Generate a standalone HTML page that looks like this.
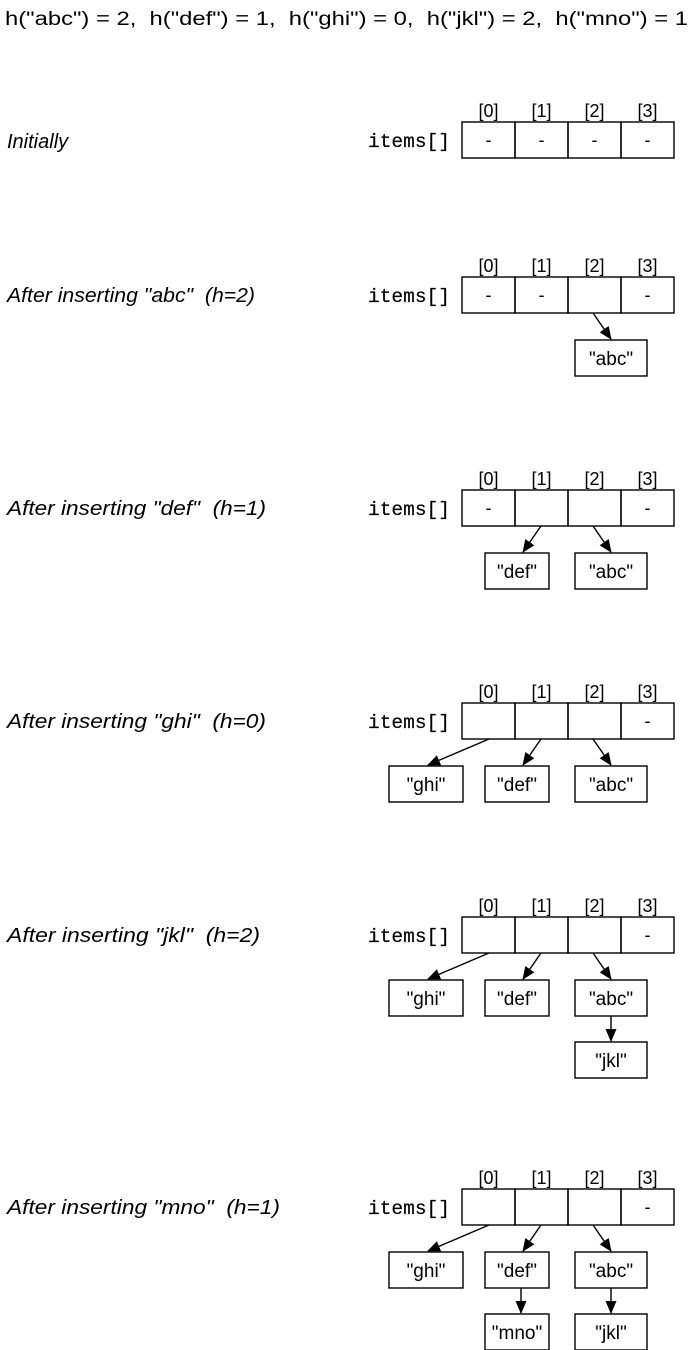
<!DOCTYPE html>
<html><head><meta charset="utf-8"><style>
html,body{margin:0;padding:0;background:#fff;}
svg{display:block;}
text{white-space:pre;}
.t{font-family:"Liberation Sans",sans-serif;fill:#000;}
.m{font-family:"Liberation Mono",monospace;fill:#000;}
</style></head><body>
<svg width="693" height="1350" viewBox="0 0 693 1350" xmlns="http://www.w3.org/2000/svg" xml:space="preserve">
<defs><marker id="a" markerWidth="14" markerHeight="12" refX="12" refY="5.5" orient="auto" markerUnits="userSpaceOnUse"><path d="M0,0 L13,5.5 L0,11 z" fill="#000"/></marker></defs>
<text class="t" x="5" y="25" font-size="19" textLength="683" lengthAdjust="spacingAndGlyphs">h("abc") = 2,  h("def") = 1,  h("ghi") = 0,  h("jkl") = 2,  h("mno") = 1</text>
<g font-size="20" class="t" font-style="italic">
<text x="7" y="148">Initially</text>
<text x="7" y="302" textLength="248" lengthAdjust="spacingAndGlyphs">After inserting "abc"  (h=2)</text>
<text x="7" y="515" textLength="259" lengthAdjust="spacingAndGlyphs">After inserting "def"  (h=1)</text>
<text x="7" y="728" textLength="259" lengthAdjust="spacingAndGlyphs">After inserting "ghi"  (h=0)</text>
<text x="7" y="942" textLength="253" lengthAdjust="spacingAndGlyphs">After inserting "jkl"  (h=2)</text>
<text x="7" y="1214" textLength="273" lengthAdjust="spacingAndGlyphs">After inserting "mno"  (h=1)</text>
</g>
<script>
const S='http://www.w3.org/2000/svg';
const svg=document.querySelector('svg');
function el(n,at,txt){const e=document.createElementNS(S,n);for(const k in at)e.setAttribute(k,at[k]);if(txt!==undefined)e.textContent=txt;svg.appendChild(e);return e;}
const X=[462,515,568,621,674];
function arr(T,vals){
 el('text',{x:368,y:T+25,'font-size':19,class:'m',textLength:82,lengthAdjust:'spacingAndGlyphs',stroke:'#000','stroke-width':0.15},'items[]');
 for(let i=0;i<4;i++){
  el('rect',{x:X[i],y:T,width:X[i+1]-X[i],height:36,fill:'none',stroke:'#000','stroke-width':1.4});
  el('text',{x:(X[i]+X[i+1])/2,y:T-5,'font-size':18,class:'t','text-anchor':'middle'},'['+i+']');
  if(vals[i])el('text',{x:(X[i]+X[i+1])/2,y:T+24,'font-size':18,class:'t','text-anchor':'middle'},'-');
 }
}
function box(x,y,w,t){el('rect',{x:x,y:y,width:w,height:36,fill:'#fff',stroke:'#000','stroke-width':1.4});el('text',{x:x+w/2,y:y+25,'font-size':19,class:'t','text-anchor':'middle'},t);}
function ln(x1,y1,x2,y2){el('line',{x1:x1,y1:y1,x2:x2,y2:y2,stroke:'#000','stroke-width':1.4,'marker-end':'url(#a)'});}
const G=[389,463],D=[485,549],A=[575,647];
function ghi(T){box(G[0],T+63,G[1]-G[0],'"ghi"');ln(489,T+36,428,T+62);}
function def(T){box(D[0],T+63,D[1]-D[0],'"def"');ln(541,T+36,523,T+62);}
function abc(T){box(A[0],T+63,A[1]-A[0],'"abc"');ln(593,T+36,611,T+62);}
arr(122,[1,1,1,1]);
arr(277,[1,1,0,1]);abc(277);
arr(490,[1,0,0,1]);def(490);abc(490);
arr(703,[0,0,0,1]);ghi(703);def(703);abc(703);
arr(917,[0,0,0,1]);ghi(917);def(917);abc(917);box(A[0],917+125,A[1]-A[0],'"jkl"');ln(611,917+99,611,917+124);
arr(1189,[0,0,0,1]);ghi(1189);def(1189);abc(1189);
box(A[0],1189+125,A[1]-A[0],'"jkl"');ln(611,1189+99,611,1189+124);
box(D[0],1189+125,D[1]-D[0],'"mno"');ln(521,1189+99,521,1189+124);
</script>
</svg>
</body></html>
